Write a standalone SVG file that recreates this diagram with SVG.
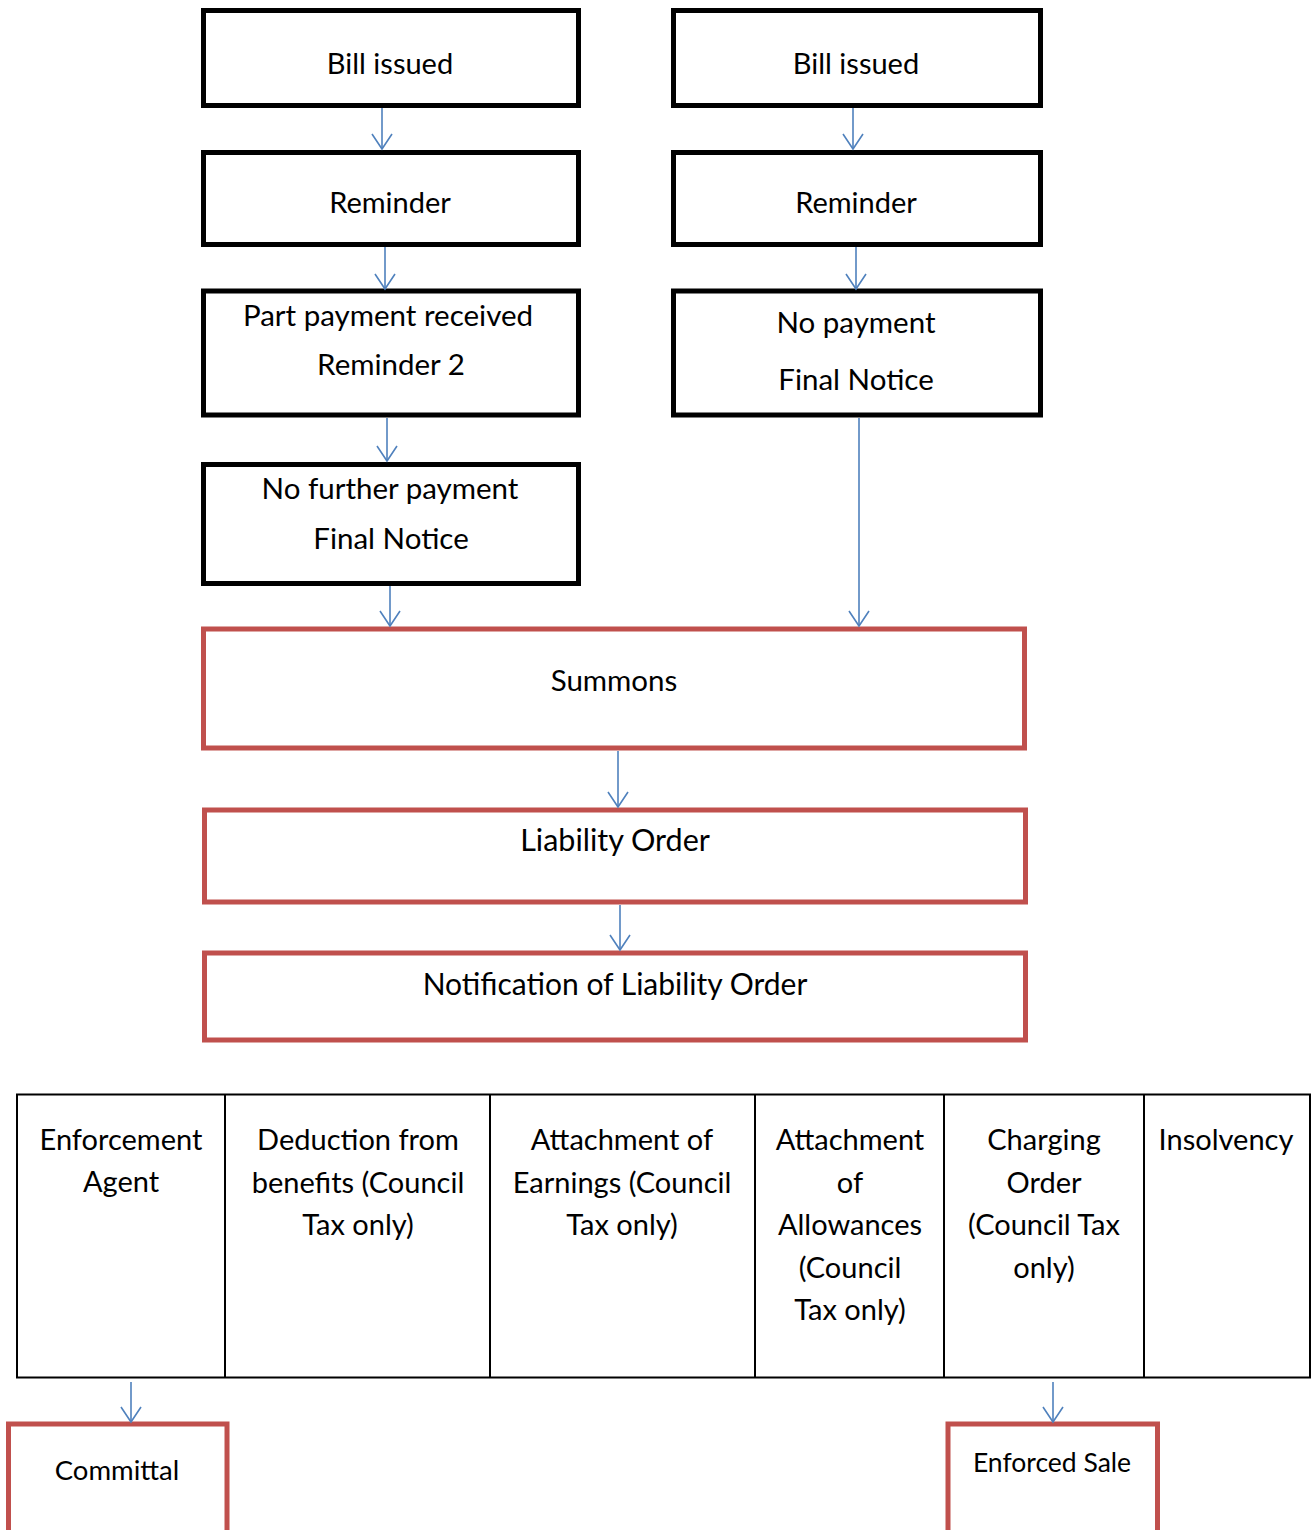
<svg xmlns="http://www.w3.org/2000/svg" width="1311" height="1530" viewBox="0 0 1311 1530">
<style>
text{font-family:Lato,"Open Sans","Liberation Sans",sans-serif;fill:#000;text-anchor:middle}
.t{font-size:29.5px}
.b{font-size:29px}
.s{font-size:29px}
.e{font-size:26.5px}
.c{font-size:27.5px}
.bk{fill:#fff;stroke:#000;stroke-width:5}
.rd{fill:#fff;stroke:#C0504D;stroke-width:5}
.tb{fill:none;stroke:#000;stroke-width:2}
.cn line,.cn path{stroke:#4F81BD;stroke-width:1.6;fill:none}
</style>
<rect width="1311" height="1530" fill="#fff"/>
<g id="bill-left"><rect class="bk" x="203.5" y="10.5" width="375" height="95"/><text class="b" x="390" y="74">Bill issued</text></g>
<g id="reminder-left"><rect class="bk" x="203.5" y="152.5" width="375" height="92"/><text class="b" x="390" y="213">Reminder</text></g>
<g id="part-payment"><rect class="bk" x="203.5" y="291" width="375" height="124"/><text class="t" x="388" y="326">Part payment received</text><text class="t" x="391" y="375">Reminder 2</text></g>
<g id="no-further"><rect class="bk" x="203.5" y="464.5" width="375" height="119"/><text class="t" x="390" y="499">No further payment</text><text class="t" x="391" y="549">Final Notice</text></g>
<g id="bill-right"><rect class="bk" x="673.5" y="10.5" width="367" height="95"/><text class="b" x="856" y="74">Bill issued</text></g>
<g id="reminder-right"><rect class="bk" x="673.5" y="152.5" width="367" height="92"/><text class="b" x="856" y="213">Reminder</text></g>
<g id="no-payment"><rect class="bk" x="673.5" y="291" width="367" height="124"/><text class="t" x="856" y="333">No payment</text><text class="t" x="856" y="390">Final Notice</text></g>
<g id="summons"><rect class="rd" x="203.5" y="629" width="821" height="119"/><text class="t" x="614" y="691">Summons</text></g>
<g id="liability"><rect class="rd" x="204.5" y="810" width="821" height="92"/><text class="t" x="615" y="851" style="font-size:30.5px">Liability Order</text></g>
<g id="notification"><rect class="rd" x="204.5" y="953" width="821" height="87"/><text class="t" x="615" y="995" style="font-size:30px">Notification of Liability Order</text></g>
<g id="options">
<rect class="tb" x="17" y="1094.5" width="1293" height="283"/>
<line class="tb" x1="225" y1="1094.5" x2="225" y2="1377.5"/>
<line class="tb" x1="490" y1="1094.5" x2="490" y2="1377.5"/>
<line class="tb" x1="755" y1="1094.5" x2="755" y2="1377.5"/>
<line class="tb" x1="944" y1="1094.5" x2="944" y2="1377.5"/>
<line class="tb" x1="1144" y1="1094.5" x2="1144" y2="1377.5"/>
</g>
<g id="enforcement-agent"><text class="s" x="121" y="1150">Enforcement</text><text class="s" x="121" y="1192">Agent</text></g>
<g id="deduction"><text class="s" x="358" y="1150">Deduction from</text><text class="s" x="358" y="1193">benefits (Council</text><text class="s" x="358" y="1235">Tax only)</text></g>
<g id="attach-earnings"><text class="s" x="622" y="1150">Attachment of</text><text class="s" x="622" y="1193">Earnings (Council</text><text class="s" x="622" y="1235">Tax only)</text></g>
<g id="attach-allowances"><text class="s" x="850" y="1150">Attachment</text><text class="s" x="850" y="1193">of</text><text class="s" x="850" y="1235">Allowances</text><text class="s" x="850" y="1278">(Council</text><text class="s" x="850" y="1320">Tax only)</text></g>
<g id="charging-order"><text class="s" x="1044" y="1150">Charging</text><text class="s" x="1044" y="1193">Order</text><text class="s" x="1044" y="1235">(Council Tax</text><text class="s" x="1044" y="1278">only)</text></g>
<g id="insolvency"><text class="s" x="1226" y="1150">Insolvency</text></g>
<g id="committal"><rect class="rd" x="8.5" y="1424" width="218.5" height="120"/><text class="c" x="117" y="1480">Committal</text></g>
<g id="enforced-sale"><rect class="rd" x="948" y="1424" width="209.5" height="120"/><text class="e" x="1052" y="1472">Enforced Sale</text></g>
<g id="connectors" class="cn">
<line x1="382" y1="108" x2="382" y2="149"/><path d="M372 134 L382 149 L392 134"/>
<line x1="385" y1="247" x2="385" y2="289"/><path d="M375 274 L385 289 L395 274"/>
<line x1="387" y1="418" x2="387" y2="461"/><path d="M377 446 L387 461 L397 446"/>
<line x1="390" y1="586" x2="390" y2="626"/><path d="M380 611 L390 626 L400 611"/>
<line x1="853" y1="108" x2="853" y2="149"/><path d="M843 134 L853 149 L863 134"/>
<line x1="856" y1="247" x2="856" y2="289"/><path d="M846 274 L856 289 L866 274"/>
<line x1="859" y1="418" x2="859" y2="626"/><path d="M849 611 L859 626 L869 611"/>
<line x1="618" y1="751" x2="618" y2="807"/><path d="M608 792 L618 807 L628 792"/>
<line x1="620" y1="905" x2="620" y2="950"/><path d="M610 935 L620 950 L630 935"/>
<line x1="131" y1="1382" x2="131" y2="1422"/><path d="M121 1407 L131 1422 L141 1407"/>
<line x1="1053" y1="1382" x2="1053" y2="1422"/><path d="M1043 1407 L1053 1422 L1063 1407"/>
</g>
</svg>
